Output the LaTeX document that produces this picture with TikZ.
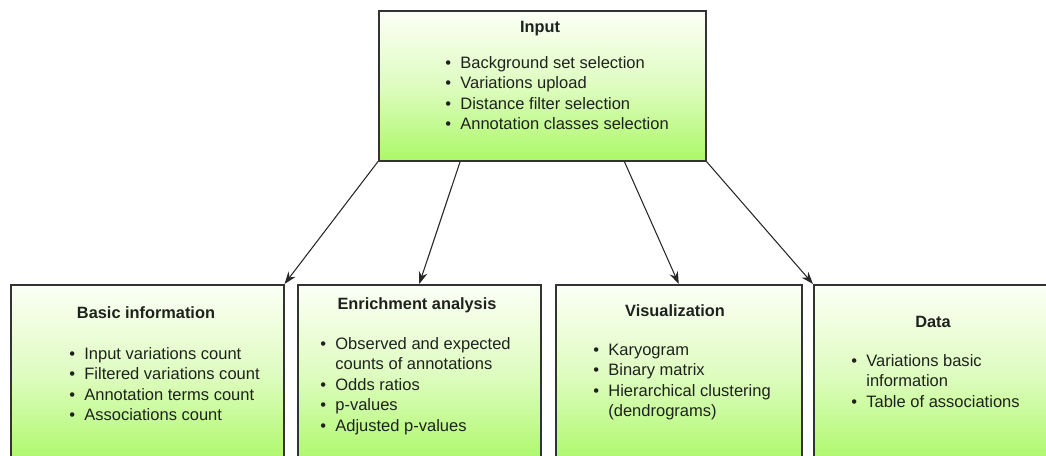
\documentclass[tikz,border=0pt]{standalone}
\usepackage{fontspec}
\setmainfont{Liberation Sans}
\usetikzlibrary{arrows.meta,calc}

\definecolor{boxtop}{RGB}{252,255,246}
\definecolor{boxmid}{RGB}{222,252,192}
\definecolor{boxbottom}{RGB}{172,248,104}
\definecolor{inktext}{RGB}{30,34,30}

\tikzset{
    stagebox/.style={draw=black!80, line width=0.9pt, top color=boxtop, bottom color=boxbottom,
        middle color=boxmid, anchor=north west, inner sep=0pt},
    stagetitle/.style={font=\bfseries\fontsize{9.3pt}{11pt}\selectfont, text=inktext, anchor=mid, inner sep=0pt},
    stagelist/.style={font=\fontsize{9.4pt}{11.6pt}\selectfont, text=inktext, anchor=north west, inner sep=0pt},
    flow/.style={-{Stealth[length=7pt,width=5pt]}, black!85, line width=0.6pt}
}

\newcommand{\bulletcol}{\makebox[0.3cm][l]{\textbullet}}

\begin{document}
\begin{tikzpicture}[x=0.02cm,y=-0.02cm]
    % Frame of the picture
    \useasboundingbox (0,0) rectangle (1046,456);
    \clip (0,0) rectangle (1046,456);

    % Draw boxes
    \node (in) [stagebox, minimum width=6.54cm, minimum height=3.0cm] at (378,10) {};
    \node (basic) [stagebox, minimum width=5.46cm, minimum height=3.6cm] at (10,284) {};
    \node (enr) [stagebox, minimum width=4.86cm, minimum height=3.6cm] at (297,284) {};
    \node (vis) [stagebox, minimum width=4.92cm, minimum height=3.6cm] at (555,284) {};
    \node (data) [stagebox, minimum width=5.4cm, minimum height=3.6cm] at (813,284) {};

    % Titles
    \node (intitle) [stagetitle] at (540,28) {Input};
    \node (basictitle) [stagetitle] at (146,314) {Basic information};
    \node (enrtitle) [stagetitle] at (417,305) {Enrichment analysis};
    \node (vistitle) [stagetitle] at (675,312) {Visualization};
    \node (datatitle) [stagetitle] at (933,323) {Data};

    % Lists
    \node (inlist) [stagelist] at (445,54) {\begin{tabular}{@{}l@{}l@{}}
        \bulletcol & Background set selection\\
        \bulletcol & Variations upload\\
        \bulletcol & Distance filter selection\\
        \bulletcol & Annotation classes selection
    \end{tabular}};
    \node (basiclist) [stagelist] at (69,345) {\begin{tabular}{@{}l@{}l@{}}
        \bulletcol & Input variations count\\
        \bulletcol & Filtered variations count\\
        \bulletcol & Annotation terms count\\
        \bulletcol & Associations count
    \end{tabular}};
    \node (enrlist) [stagelist] at (320,335) {\begin{tabular}{@{}l@{}l@{}}
        \bulletcol & Observed and expected\\
                   & counts of annotations\\
        \bulletcol & Odds ratios\\
        \bulletcol & p-values\\
        \bulletcol & Adjusted p-values
    \end{tabular}};
    \node (vislist) [stagelist] at (593,341) {\begin{tabular}{@{}l@{}l@{}}
        \bulletcol & Karyogram\\
        \bulletcol & Binary matrix\\
        \bulletcol & Hierarchical clustering\\
                   & (dendrograms)
    \end{tabular}};
    \node (datalist) [stagelist] at (851,352) {\begin{tabular}{@{}l@{}l@{}}
        \bulletcol & Variations basic\\
                   & information\\
        \bulletcol & Table of associations
    \end{tabular}};

    % Draw arrows
    \draw [flow] (in.south west) -- (basic.north east);
    \draw [flow] ($(in.south west)!0.25!(in.south east)$) -- (enr.north);
    \draw [flow] ($(in.south west)!0.75!(in.south east)$) -- (vis.north);
    \draw [flow] (in.south east) -- (data.north west);
\end{tikzpicture}
\end{document}
